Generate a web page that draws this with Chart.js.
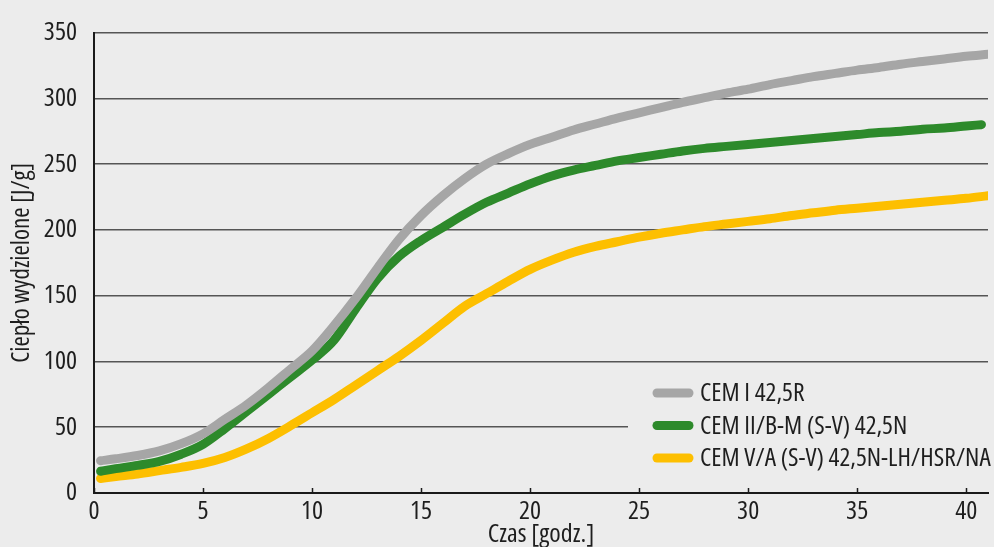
<!DOCTYPE html>
<html lang="pl">
<head>
  <meta charset="utf-8">
  <title>Ciepło hydratacji</title>
  <script src="https://cdn.jsdelivr.net/npm/chart.js"></script>
  <style>
    html, body { margin: 0; padding: 0; background: #ececec; }
    canvas { display: block; }
  </style>
</head>
<body>
  <canvas id="wykres" width="994" height="547"></canvas>
<script>
  // czas [godz.] - wspolny dla wszystkich serii
  const czas = [0.3, 1, 2, 3, 4, 5, 6, 7, 8, 9, 10, 11, 12, 13, 14, 15, 16, 17, 18, 19, 20,
    21, 22, 23, 24, 25, 26, 27, 28, 29, 30, 31, 32, 33, 34, 35, 36, 37, 38, 39, 40];

  const cemI = [24.5, 26, 28.5, 32, 37.5, 45, 56, 67, 80, 94, 108, 127, 148, 171, 193, 211, 226, 239, 250, 258, 265,
    270.5, 276, 280.5, 285, 289, 293, 297, 300.5, 304, 307, 310.5, 313.5, 316.5, 319, 321.5, 323.5, 326, 328, 330, 332];
  const cemII = [16.5, 18.5, 21, 24, 29.5, 37, 49, 62, 75, 88, 101, 116, 140, 163, 180, 192, 202, 212, 221, 228, 235,
    241, 245.5, 249, 252.5, 255, 257.5, 260, 262, 263.5, 265, 266.5, 268, 269.5, 271, 272.5, 274, 275, 276.5, 277.5, 279];
  const cemV = [11, 12.5, 14.5, 17, 19.5, 22.5, 27, 33.5, 41.5, 51, 61, 71, 82, 93, 104, 116, 129, 142, 151.5, 161, 170,
    177, 183, 187.5, 191, 194.5, 197.5, 200, 202.5, 204.5, 206.5, 208.5, 211, 213, 215, 216.5, 218, 219.5, 221, 222.5, 224];

  // ostatni pomiar kazdej serii
  const koniecCzas = [41, 40.7, 41];
  const koniecWartosc = [333.5, 280, 226];

  const nazwy = ['CEM I 42,5R', 'CEM II/B-M (S-V) 42,5N', 'CEM V/A (S-V) 42,5N-LH/HSR/NA'];
  const kolory = ['#a6a6a6', '#2d8a2b', '#fdbf00'];
  const yTicks = [0, 50, 100, 150, 200, 250, 300, 350];

  // waska odmiana Open Sans (font-stretch: condensed)
  const FONT = "'Open Sans', sans-serif";
  const STRETCH = 'condensed';
  const TLO = '#ececec';
  const TEKST = '#1e1e1e';

  function punkty(wartosci, i) {
    const p = czas.map((x, j) => ({ x: x, y: wartosci[j] }));
    p.push({ x: koniecCzas[i], y: koniecWartosc[i] });
    return p;
  }

  const serie = [cemI, cemII, cemV];

  const data = {
    datasets: serie.map((s, i) => ({
      label: nazwy[i],
      data: punkty(s, i),
      borderColor: kolory[i],
      backgroundColor: kolory[i],
      borderWidth: 9,
      borderCapStyle: 'round',
      borderJoinStyle: 'round',
      pointRadius: 0,
      cubicInterpolationMode: 'monotone',
      fill: false
    }))
  };

  // legenda w srodku wykresu, tlo zaslania linie siatki
  const legendaPlugin = {
    id: 'legendaWewnatrz',
    beforeDatasetsDraw(chart) {
      const ctx = chart.ctx;
      ctx.save();
      ctx.fillStyle = TLO;
      ctx.fillRect(628, 368, 366, 112);
      ctx.restore();
    },
    afterDraw(chart) {
      const ctx = chart.ctx;
      const x = chart.scales.x;
      ctx.save();
      // male znaczniki do wewnatrz na osi X
      ctx.strokeStyle = '#1a1a1a';
      ctx.lineWidth = 1.5;
      x.ticks.forEach(t => {
        const px = Math.round(x.getPixelForValue(t.value)) + 0.5;
        ctx.beginPath();
        ctx.moveTo(px, x.top);
        ctx.lineTo(px, x.top - 5);
        ctx.stroke();
      });
      const ys = [393, 425.5, 458];
      chart.data.datasets.forEach((ds, i) => {
        ctx.strokeStyle = ds.borderColor;
        ctx.lineWidth = 9;
        ctx.lineCap = 'round';
        ctx.beginPath();
        ctx.moveTo(657, ys[i]);
        ctx.lineTo(689, ys[i]);
        ctx.stroke();
        ctx.fillStyle = TEKST;
        ctx.font = STRETCH + ' 25.5px ' + FONT;
        ctx.textBaseline = 'middle';
        ctx.textAlign = 'left';
        ctx.fillText(ds.label, 700, ys[i] + 1);
      });
      ctx.restore();
    }
  };

  const config = {
    type: 'line',
    data: data,
    options: {
      responsive: false,
      animation: false,
      devicePixelRatio: 1,
      layout: { padding: { top: 26, right: 6, left: 0, bottom: 0 } },
      plugins: {
        legend: { display: false },
        tooltip: { enabled: false }
      },
      scales: {
        x: {
          type: 'linear',
          min: 0,
          max: 41,
          afterFit: s => { s.height = 54; },
          ticks: {
            stepSize: 5,
            includeBounds: false,
            padding: 3,
            color: TEKST,
            font: { family: FONT, weight: STRETCH, size: 26 }
          },
          grid: { display: false, drawTicks: false },
          border: { display: true, color: '#1a1a1a', width: 2 },
          title: {
            display: true,
            text: 'Czas [godz.]',
            color: TEKST,
            font: { family: FONT, weight: STRETCH, size: 26 },
            padding: { top: 0, bottom: -3 }
          }
        },
        y: {
          min: 0,
          max: 350,
          afterFit: s => { s.width = 94; },
          afterBuildTicks: s => { s.ticks = yTicks.map(v => ({ value: v })); },
          ticks: {
            padding: 17,
            color: TEKST,
            font: { family: FONT, weight: STRETCH, size: 26 }
          },
          grid: { color: '#555555', lineWidth: 1.5, drawTicks: false },
          border: { display: true, color: '#1a1a1a', width: 2 },
          title: {
            display: true,
            text: 'Ciepło wydzielone [J/g]',
            color: TEKST,
            font: { family: FONT, weight: STRETCH, size: 25 },
            padding: { top: 7, bottom: 0 }
          }
        }
      }
    },
    plugins: [legendaPlugin]
  };

  const wykres = new Chart(document.getElementById('wykres'), config);
</script>
</body>
</html>
